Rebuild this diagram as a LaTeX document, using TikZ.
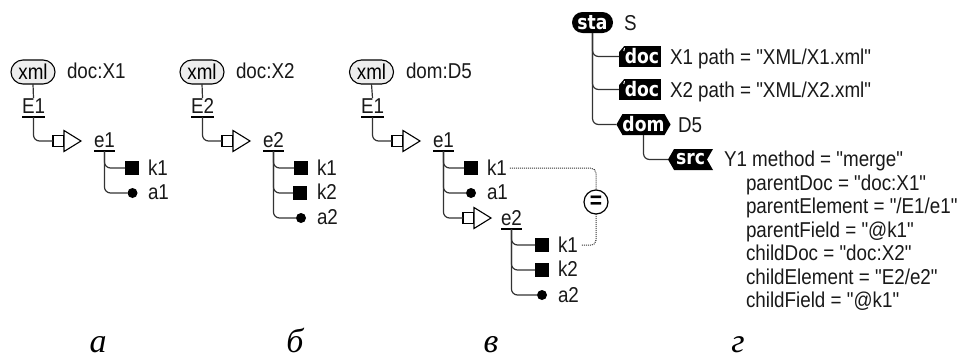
\documentclass[tikz,border=0pt]{standalone}
\usepackage{fontspec}
\newfontfamily\bodyfont[FakeStretch=0.875]{Liberation Sans}
\newfontfamily\capfont{Liberation Serif}
\newfontfamily\tagfont[FakeStretch=0.86]{DejaVu Sans}
\usetikzlibrary{shapes.misc,shapes.symbols}
\definecolor{ln}{HTML}{333333}
\tikzset{
  x=1pt,y=-1pt,
  every node/.style={inner sep=0pt,outer sep=0pt},
  txt/.style={anchor=base west,font=\bodyfont\fontsize{21.5}{21.5}\selectfont,text=black!90},
  ultxt/.style={txt,text depth=4pt,append after command={(\tikzlastnode.south west) edge[ulrule] (\tikzlastnode.south east)}},
  ulrule/.style={draw=black,line width=1.1pt},
  pill/.style={rounded rectangle,draw=black,line width=1.1pt,fill=black!7,minimum width=44pt,minimum height=24pt,font=\bodyfont\fontsize{21.5}{21.5}\selectfont},
  conn/.style={draw=ln,line width=1.2pt,rounded corners=6pt},
  keysq/.style={rectangle,fill=black,minimum width=14pt,minimum height=14pt},
  attdot/.style={circle,fill=black,minimum size=10pt},
  sq/.style={rectangle,draw=black,fill=white,line width=1.1pt,minimum width=11pt,minimum height=11pt},
  tri/.style={draw=black,fill=white,line width=1.1pt,line join=miter},
  dots/.style={draw=ln,line width=1pt,dash pattern=on 1pt off 1pt,rounded corners=5pt},
  eqc/.style={circle,draw=black,line width=1.2pt,fill=white,minimum size=24pt,font=\bodyfont\bfseries\fontsize{24}{24}\selectfont},
  tag/.style={text=white,font=\tagfont\bfseries\fontsize{20}{20}\selectfont},
  stapill/.style={tag,rounded rectangle,fill=black,minimum width=41pt,minimum height=21pt},
  docbox/.style={tag,rectangle,fill=black,minimum width=42pt,minimum height=21pt,
    path picture={
      \fill[white] (path picture bounding box.north west) -- ++(5pt,0pt) -- ++(-5pt,-6pt) -- cycle;
      \draw[white,line width=1pt] ([xshift=5.5pt,yshift=-2pt]path picture bounding box.north west) -- ++(-.7pt,-3pt);}},
  domhex/.style={tag,signal,signal to=west and east,signal pointer angle=120,fill=black,minimum width=51pt,minimum height=21pt},
  srcsig/.style={tag,signal,signal to=west,signal from=east,signal pointer angle=120,fill=black,minimum width=45pt,minimum height=21pt},
  captxt/.style={anchor=base,font=\capfont\itshape\fontsize{34}{34}\selectfont,text=black},
}
\newcommand{\triarrow}[3]{%
  \node[sq] (#1) at (#2,#3) {};
  \draw[tri] (#1.east) ++(0,-10.5) -- ++(17,10.5) -- ++(-17,10.5) -- cycle;
}
\begin{document}
\begin{tikzpicture}
\useasboundingbox (0,0) rectangle (968,356);
% panel a
\node[pill] (xa) at (33,72) {xml};
\node[txt] (ta) at (67,78) {doc:X1};
\node[ultxt] (Ea) at (22,113) {E1};
\draw[conn] (xa.south) -- (Ea.north);
\triarrow{ra}{58.5}{141}
\draw[conn] (Ea.south) |- (ra.west);
\node[ultxt] (ea) at (94,147) {e1};
\node[keysq] (ka) at (132,168) {};
\node[attdot] (aa) at (132.5,193) {};
\node[txt] (kta) at (148,175) {k1};
\node[txt] (ata) at (148,199) {a1};
\draw[conn] (ea.south) |- (ka.west);
\draw[conn] (ea.south) |- (aa.west);
% panel b
\node[pill] (xb) at (202,72) {xml};
\node[txt] (tb) at (236,78) {doc:X2};
\node[ultxt] (Eb) at (191,113) {E2};
\draw[conn] (xb.south) -- (Eb.north);
\triarrow{rb}{227.5}{141}
\draw[conn] (Eb.south) |- (rb.west);
\node[ultxt] (eb) at (263,147) {e2};
\node[keysq] (kb1) at (301,168) {};
\node[keysq] (kb2) at (300,193) {};
\node[attdot] (ab) at (301,218) {};
\node[txt] (ktb1) at (317,175) {k1};
\node[txt] (ktb2) at (317,199) {k2};
\node[txt] (atb) at (317,224) {a2};
\draw[conn] (eb.south) |- (kb1.west);
\draw[conn] (eb.south) |- (kb2.west);
\draw[conn] (eb.south) |- (ab.west);
% panel c
\node[pill] (xc) at (371.5,72) {xml};
\node[txt] (tc) at (406,78) {dom:D5};
\node[ultxt] (Ec) at (361,113) {E1};
\draw[conn] (xc.south) -- (Ec.north);
\triarrow{rc}{397.5}{141}
\draw[conn] (Ec.south) |- (rc.west);
\node[ultxt] (ec) at (433,147) {e1};
\node[keysq] (kc) at (471,168) {};
\node[attdot] (ac) at (471,193) {};
\node[txt] (ktc) at (487,175) {k1};
\node[txt] (atc) at (487,199) {a1};
\triarrow{rd}{468.5}{218}
\draw[conn] (ec.south) |- (kc.west);
\draw[conn] (ec.south) |- (ac.west);
\draw[conn] (ec.south) |- (rd.west);
\node[ultxt] (ed) at (501,225) {e2};
\node[keysq] (kd1) at (542,245) {};
\node[keysq] (kd2) at (542,270) {};
\node[attdot] (ad) at (542,295) {};
\node[txt] (ktd1) at (558,252) {k1};
\node[txt] (ktd2) at (558,276) {k2};
\node[txt] (atd) at (558,302) {a2};
\draw[conn] (ed.south) |- (kd1.west);
\draw[conn] (ed.south) |- (kd2.west);
\draw[conn] (ed.south) |- (ad.west);
\node[eqc] (eq) at (596,202) {=};
\draw[dots] ([xshift=3pt,yshift=-1pt]ktc.east) -| (eq.north);
\draw[dots] (eq.south) |- ([xshift=4pt,yshift=-1pt]ktd1.east);
% panel d
\node[stapill] (sta) at (592.5,22.5) {sta};
\node[txt] (ts) at (624,30) {S};
\node[docbox] (d1) at (640,56.5) {\hspace*{4pt}doc};
\node[docbox] (d2) at (640,89.5) {\hspace*{4pt}doc};
\node[domhex] (dom) at (643.5,124.5) {dom};
\node[srcsig] (src) at (690.5,159.5) {src};
\node[txt] (tx1) at (670,64) {X1 path = "XML/X1.xml"};
\node[txt] (tx2) at (670,97) {X2 path = "XML/X2.xml"};
\node[txt] (td5) at (678,132) {D5};
\node[txt] (ty1) at (724,166) {Y1 method = "merge"};
\node[txt] (p1) at (746,190) {parentDoc = "doc:X1"};
\node[txt] (p2) at (746,213.5) {parentElement = "/E1/e1"};
\node[txt] (p3) at (746,237) {parentField = "@k1"};
\node[txt] (p4) at (746,260.5) {childDoc = "doc:X2"};
\node[txt] (p5) at (746,284) {childElement = "E2/e2"};
\node[txt] (p6) at (746,307.5) {childField = "@k1"};
\draw[conn] (sta.south) |- (d1.west);
\draw[conn] (sta.south) |- (d2.west);
\draw[conn] (sta.south) |- (dom.west);
\draw[conn] (dom.south) |- (src.west);
% captions
\node[captxt] (ca) at (98,352) {а};
\node[captxt] (cb) at (295,352) {б};
\node[captxt] (cc) at (491,352) {в};
\node[captxt] (cd) at (738,352) {г};
\end{tikzpicture}
\end{document}
